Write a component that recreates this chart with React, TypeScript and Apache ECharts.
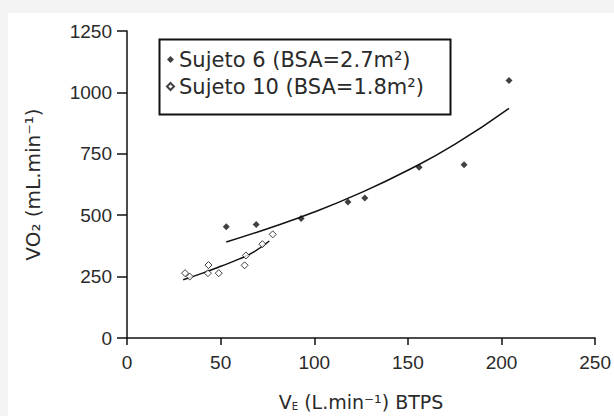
import React, { useEffect, useRef } from "react";
import * as echarts from "echarts";

const xTicks = [0, 50, 100, 150, 200, 250];
const yTicks = [0, 250, 500, 750, 1000, 1250];

const s6Name = "Sujeto 6 (BSA=2.7m²)";
const s10Name = "Sujeto 10 (BSA=1.8m²)";

const s6X = [53, 69, 93, 118, 127, 156, 180, 204];
const s6Y = [453, 462, 487, 554, 570, 695, 705, 1048];

const s10X = [31, 33.5, 43.5, 43.2, 49, 62.8, 63.5, 72.3, 77.8];
const s10Y = [264, 250, 297, 264, 264, 296, 336, 382, 422];

const fit6X = [53, 75, 100, 125, 150, 175, 204];
const fit6Y = [391, 445, 513, 592, 683, 788, 935];

const fit10X = [30, 40, 50, 60, 68, 76];
const fit10Y = [237, 263, 292, 322, 352, 395];

const zip = (xs: number[], ys: number[]) => xs.map((x, i) => [x, ys[i]]);

const FONT = "DejaVu Sans";
const TICKFONT = "Liberation Sans, Arial, sans-serif";
const TXT = "#2a2a2a";

export default function App() {
  const ref = useRef<HTMLDivElement>(null);
  useEffect(() => {
    if (!ref.current) return;
    const chart = echarts.init(ref.current, null, { renderer: "svg" });
    chart.setOption({
      animation: false,
      backgroundColor: "#ffffff",
      textStyle: { fontFamily: FONT },
      grid: { left: 119, right: 17, top: 18, bottom: 73, containLabel: false },
      legend: {
        orient: "vertical",
        left: 158,
        top: 36,
        itemWidth: 7,
        itemHeight: 7,
        itemGap: 6,
        padding: 0,
        textStyle: { fontFamily: FONT, fontSize: 21, color: TXT },
        data: [
          { name: s6Name, icon: "diamond" },
          { name: s10Name, icon: "diamond" },
        ],
      },
      graphic: [
        {
          type: "rect",
          left: 149,
          top: 24,
          shape: { width: 291, height: 75 },
          style: { fill: "none", stroke: "#111", lineWidth: 2 },
          z: 10,
        },
      ],
      xAxis: {
        type: "value",
        min: xTicks[0],
        max: xTicks[xTicks.length - 1],
        interval: 50,
        splitLine: { show: false },
        axisLine: { lineStyle: { color: "#111", width: 1.5 } },
        axisTick: { length: 7, lineStyle: { color: "#111", width: 1.5 } },
        axisLabel: { fontFamily: TICKFONT, fontSize: 19, color: TXT, margin: 15, formatter: (v: number) => String(v) },
        name: "{v|V}{s|E} (L.min⁻¹) BTPS",
        nameLocation: "middle",
        nameGap: 54,
        nameTextStyle: {
          fontFamily: FONT,
          fontSize: 19,
          color: TXT,
          rich: {
            v: { fontFamily: FONT, fontSize: 19, color: TXT },
            s: { fontFamily: FONT, fontSize: 10, color: TXT, verticalAlign: "bottom", padding: [8, 0, 0, 0] },
          },
        },
      },
      yAxis: {
        type: "value",
        min: yTicks[0],
        max: yTicks[yTicks.length - 1],
        interval: 250,
        splitLine: { show: false },
        axisLine: { show: true, lineStyle: { color: "#111", width: 1.5 } },
        axisTick: { show: true, length: 10, lineStyle: { color: "#111", width: 1.5 } },
        axisLabel: { fontFamily: TICKFONT, fontSize: 19, color: TXT, margin: 15, formatter: (v: number) => String(v) },
        name: "VO₂ (mL.min⁻¹)",
        nameLocation: "middle",
        nameGap: 84,
        nameTextStyle: { fontFamily: FONT, fontSize: 20, color: TXT },
      },
      series: [
        {
          name: s6Name,
          type: "scatter",
          symbol: "diamond",
          symbolSize: 7,
          itemStyle: { color: "#111" },
          data: zip(s6X, s6Y),
          z: 3,
        },
        {
          name: s10Name,
          type: "scatter",
          symbol: "diamond",
          symbolSize: 7,
          itemStyle: { color: "#ffffff", borderColor: "#111", borderWidth: 1 },
          data: zip(s10X, s10Y),
          z: 3,
        },
        {
          name: "fit6",
          type: "line",
          smooth: true,
          showSymbol: false,
          symbol: "none",
          lineStyle: { color: "#111", width: 1.5 },
          data: zip(fit6X, fit6Y),
          z: 2,
        },
        {
          name: "fit10",
          type: "line",
          smooth: true,
          showSymbol: false,
          symbol: "none",
          lineStyle: { color: "#111", width: 1.5 },
          data: zip(fit10X, fit10Y),
          z: 2,
        },
      ],
    });
    return () => chart.dispose();
  }, []);

  return (
    <div style={{ position: "absolute", left: 0, top: 0, width: 614, height: 416, background: "#f4f4f4" }}>
      <div ref={ref} style={{ position: "absolute", left: 8, top: 13, width: 606, height: 403 }} />
    </div>
  );
}
